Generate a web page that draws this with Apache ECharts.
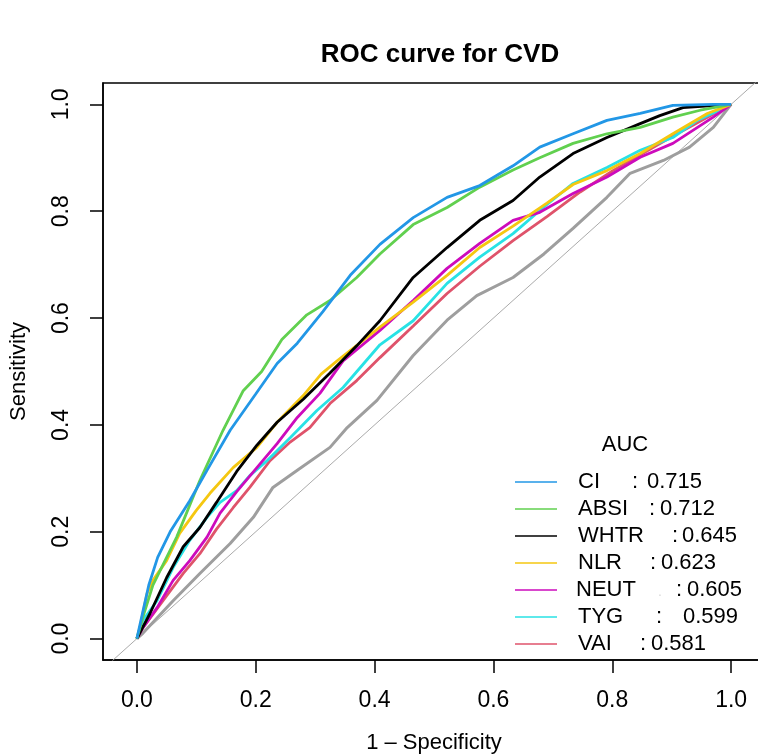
<!DOCTYPE html>
<html>
<head>
<meta charset="utf-8">
<script src="https://cdn.jsdelivr.net/npm/echarts@6/dist/echarts.min.js"></script>
<style>
  html, body { margin: 0; padding: 0; background: #fff; }
  #chart { width: 758px; height: 755px; }
</style>
</head>
<body>
<div id="chart"></div>
<script>
// tick values shared by both axes
const tickValues = [0, 0.2, 0.4, 0.6, 0.8, 1.0]

// ROC curves, [1 - specificity, sensitivity]
const ciCurve = [[0,0],[0.01,0.05],[0.02,0.1],[0.035,0.152],[0.056,0.2],[0.089,0.258],[0.118,0.315],[0.157,0.39],[0.2,0.458],[0.236,0.515],[0.27,0.553],[0.313,0.612],[0.359,0.68],[0.409,0.738],[0.465,0.788],[0.522,0.826],[0.577,0.848],[0.633,0.885],[0.678,0.92],[0.734,0.945],[0.791,0.97],[0.847,0.983],[0.902,0.998],[0.97,1.0],[1,1]]
const absiCurve = [[0,0],[0.01,0.04],[0.027,0.1],[0.067,0.19],[0.106,0.296],[0.145,0.39],[0.179,0.464],[0.21,0.5],[0.244,0.56],[0.286,0.606],[0.325,0.633],[0.37,0.676],[0.409,0.72],[0.465,0.775],[0.522,0.807],[0.577,0.845],[0.633,0.877],[0.678,0.9],[0.734,0.927],[0.791,0.945],[0.847,0.957],[0.902,0.976],[0.948,0.989],[1,1]]
const whtrCurve = [[0,0],[0.022,0.047],[0.05,0.114],[0.078,0.172],[0.106,0.208],[0.134,0.255],[0.168,0.313],[0.202,0.362],[0.236,0.405],[0.28,0.448],[0.325,0.497],[0.37,0.548],[0.409,0.595],[0.465,0.676],[0.522,0.732],[0.577,0.783],[0.633,0.82],[0.678,0.864],[0.734,0.908],[0.791,0.938],[0.847,0.964],[0.88,0.979],[0.919,0.994],[1,1]]
const nlrCurve = [[0,0],[0.005,0.02],[0.017,0.084],[0.027,0.109],[0.05,0.146],[0.072,0.197],[0.1,0.24],[0.123,0.272],[0.162,0.32],[0.202,0.358],[0.236,0.405],[0.28,0.455],[0.31,0.495],[0.337,0.52],[0.409,0.583],[0.465,0.63],[0.522,0.68],[0.577,0.732],[0.633,0.772],[0.69,0.815],[0.734,0.85],[0.791,0.876],[0.847,0.908],[0.902,0.945],[0.96,0.983],[1,1]]
const neutCurve = [[0,0],[0.01,0.02],[0.034,0.058],[0.061,0.109],[0.089,0.146],[0.118,0.19],[0.14,0.235],[0.168,0.275],[0.202,0.32],[0.236,0.365],[0.27,0.414],[0.308,0.459],[0.347,0.52],[0.409,0.577],[0.465,0.633],[0.522,0.693],[0.577,0.74],[0.633,0.783],[0.678,0.798],[0.734,0.833],[0.791,0.864],[0.847,0.901],[0.902,0.927],[0.97,0.976],[1,1]]
const tygCurve = [[0,0],[0.01,0.034],[0.034,0.071],[0.061,0.133],[0.089,0.184],[0.118,0.227],[0.14,0.255],[0.168,0.277],[0.19,0.305],[0.219,0.333],[0.258,0.376],[0.303,0.427],[0.347,0.47],[0.409,0.55],[0.465,0.595],[0.522,0.665],[0.577,0.714],[0.633,0.758],[0.684,0.807],[0.734,0.852],[0.791,0.882],[0.847,0.914],[0.902,0.938],[0.943,0.97],[1,1]]
const vaiCurve = [[0,0],[0.01,0.02],[0.044,0.071],[0.078,0.122],[0.106,0.159],[0.134,0.205],[0.162,0.245],[0.19,0.283],[0.224,0.333],[0.258,0.368],[0.291,0.395],[0.325,0.44],[0.37,0.483],[0.409,0.526],[0.465,0.585],[0.522,0.646],[0.577,0.697],[0.633,0.745],[0.69,0.79],[0.746,0.836],[0.801,0.876],[0.859,0.913],[0.914,0.948],[1,1]]
const grayCurve = [[0,0],[0.01,0.01],[0.061,0.071],[0.106,0.122],[0.157,0.178],[0.196,0.227],[0.229,0.283],[0.27,0.315],[0.325,0.358],[0.354,0.395],[0.404,0.446],[0.465,0.53],[0.522,0.596],[0.572,0.642],[0.633,0.676],[0.685,0.72],[0.734,0.768],[0.791,0.826],[0.83,0.871],[0.886,0.895],[0.93,0.92],[0.97,0.957],[1,1]]
// chance line y = x, spans the whole plot region
const chanceLine = [[-0.1,-0.1],[1.1,1.1]]

// legend
const legendNames = ['CI', 'ABSI', 'WHTR', 'NLR', 'NEUT', 'TYG', 'VAI']
const legendAuc = ['0.715', '0.712', '0.645', '0.623', '0.605', '0.599', '0.581']
const legendColors = ['#2297E6', '#61D04F', '#000000', '#F5C710', '#CD0BBC', '#28E2E5', '#DF536B']
const curves = [ciCurve, absiCurve, whtrCurve, nlrCurve, neutCurve, tygCurve, vaiCurve]

const FONT = '"Liberation Sans", Arial, sans-serif'

const chart = echarts.init(document.getElementById('chart'))

// legend layout (pixels), the colons do not line up in the original
const legendRowY = [482, 509, 536, 563, 590, 617, 644]
const colonX = [635, 652, 675, 653, 679, 659, 643]
const valueX = [647, 660, 682, 661, 687, 683, 651]

const legendGraphics = [
    {
        type: 'text', x: 625, y: 445,
        style: { text: 'AUC', font: '22px ' + FONT, fill: '#000', align: 'center', verticalAlign: 'middle' },
    },
]
legendNames.forEach((name, i) => {
    const y = legendRowY[i]
    legendGraphics.push(
        { type: 'line', shape: { x1: 515, y1: y, x2: 557, y2: y }, style: { stroke: legendColors[i], lineWidth: 1.6 } },
        { type: 'text', x: name === 'NEUT' ? 576 : 578, y: y, style: { text: name, font: '22px ' + FONT, fill: '#000', verticalAlign: 'middle' } },
        { type: 'text', x: colonX[i], y: y, style: { text: ':', font: '22px ' + FONT, fill: '#000', align: 'center', verticalAlign: 'middle' } },
        { type: 'text', x: valueX[i], y: y, style: { text: legendAuc[i], font: '22px ' + FONT, fill: '#000', verticalAlign: 'middle' } },
    )
})
legendGraphics.push({ type: 'text', x: 660, y: 592, style: { text: '.', font: '14px ' + FONT, fill: '#d8d8d8', align: 'center', verticalAlign: 'middle' } })

const series = [
    {
        type: 'line', data: chanceLine, showSymbol: false, silent: true,
        lineStyle: { color: '#AAAAAA', width: 1 }, z: 1,
    },
    {
        type: 'line', data: grayCurve, showSymbol: false, silent: true,
        lineStyle: { color: '#9E9E9E', width: 3 }, z: 2,
    },
]
// draw in reverse so CI ends up on top
for (let i = curves.length - 1; i >= 0; i--) {
    series.push({
        name: legendNames[i],
        type: 'line',
        data: curves[i],
        showSymbol: false,
        silent: true,
        lineStyle: { color: legendColors[i], width: 2.8 },
        z: 3,
    })
}

const option = {
    animation: false,
    backgroundColor: '#fff',
    textStyle: { fontFamily: FONT },
    title: {
        text: 'ROC curve for CVD',
        left: 435,
        top: 37,
        textAlign: 'center',
        textStyle: { fontSize: 26, fontWeight: 'bold', color: '#000', fontFamily: FONT },
    },
    grid: {
        left: 103, top: 83, width: 662, height: 577,
        containLabel: false,
        outerBoundsMode: 'none',
        show: true, borderColor: '#000', borderWidth: 1.5,
    },
    xAxis: {
        type: 'value',
        min: -0.057, max: 1.057,
        name: '1 \u2013 Specificity',
        nameLocation: 'middle',
        nameGap: 72,
        nameTextStyle: { fontSize: 22, color: '#000', fontFamily: FONT },
        axisLine: { show: true, onZero: false, lineStyle: { color: '#000', width: 1.5 } },
        axisTick: { show: true, length: 13, lineStyle: { color: '#000', width: 1.5 }, customValues: tickValues },
        axisLabel: { fontSize: 23, color: '#000', margin: 29, fontFamily: FONT, customValues: tickValues, formatter: v => v.toFixed(1) },
        splitLine: { show: false },
    },
    yAxis: {
        type: 'value',
        min: -0.04, max: 1.04,
        name: 'Sensitivity',
        nameLocation: 'middle',
        nameGap: 73,
        nameTextStyle: { fontSize: 22, color: '#000', fontFamily: FONT },
        axisLine: { show: true, onZero: false, lineStyle: { color: '#000', width: 1.5 } },
        axisTick: { show: true, length: 13, lineStyle: { color: '#000', width: 1.5 }, customValues: tickValues },
        axisLabel: { fontSize: 23, color: '#000', margin: 30, rotate: 90, fontFamily: FONT, customValues: tickValues, formatter: v => v.toFixed(1) },
        splitLine: { show: false },
    },
    graphic: legendGraphics,
    series: series,
}

chart.setOption(option)
</script>
</body>
</html>
